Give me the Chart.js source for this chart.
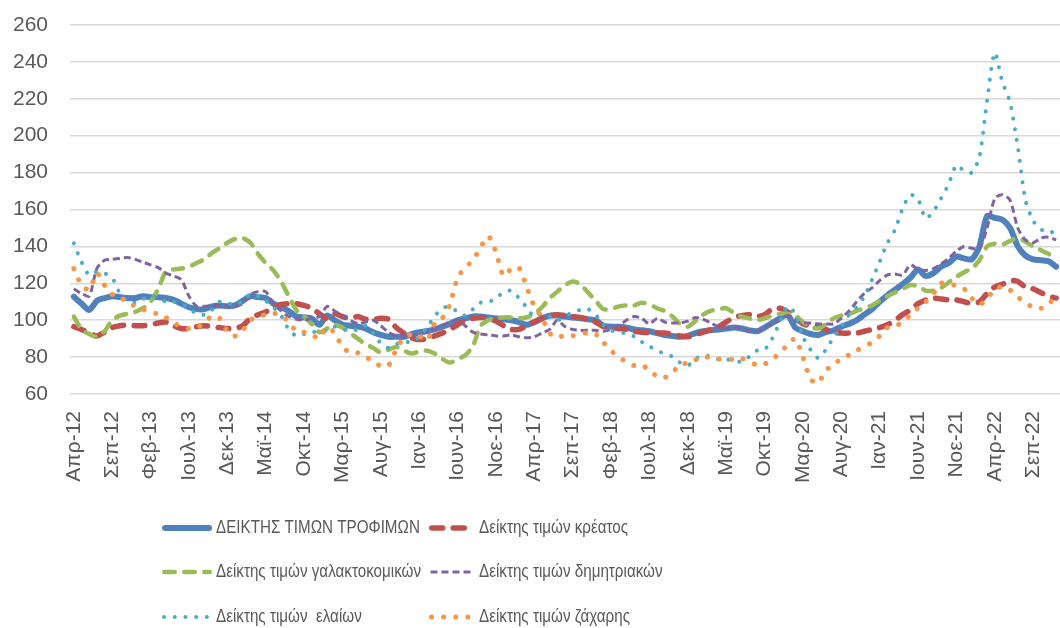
<!DOCTYPE html>
<html lang="el">
<head>
<meta charset="utf-8">
<title>Δείκτες τιμών τροφίμων</title>
<script src="https://cdn.jsdelivr.net/npm/chart.js@4.4.1/dist/chart.umd.min.js"></script>
<style>
  html, body { margin: 0; padding: 0; background: #fff; overflow: hidden; }
  #wrap { position: relative; width: 1060px; height: 628px; }
</style>
</head>
<body>
<div id="wrap"><canvas id="chart"></canvas></div>
<script>
// ====== DATA ======
const monthNames = ['Ιαν','Φεβ','Μαρ','Απρ','Μαϊ','Ιουν','Ιουλ','Αυγ','Σεπ','Οκτ','Νοε','Δεκ'];
const startYear  = 2012;
const startMonth = 3;      // Απρ
const monthCount = 129;    // Απρ-12 ... Δεκ-22
const labelEvery = 5;
const yTicks     = { min: 60, max: 260, step: 20 };

const seriesNames = [
  'ΔΕΙΚΤΗΣ ΤΙΜΩΝ ΤΡΟΦΙΜΩΝ',
  'Δείκτης τιμών κρέατος',
  'Δείκτης τιμών γαλακτοκομικών',
  'Δείκτης τιμών δημητριακών',
  'Δείκτης τιμών  ελαίων',
  'Δείκτης τιμών ζάχαρης'
];

const foodIndex = [112.7,109,105.5,110.5,112,113,112.5,112,112,113,
  112.5,112.5,112,111,109,107,106,106,107.5,108,
  107.5,108,110.5,113,112.5,112,109,107,105,102,
  101.5,101,97.5,102.5,100,97.5,97,96.5,95.5,93.5,
  92,91,91,91,92.5,93.5,94,95,96.5,98,
  100,101,102,102,101.5,101,100.5,100,99,97.5,
  99,101,102.5,102.5,102,101.5,101,100.5,100,97,
  96.5,96.5,96,95,94.5,94,93,92,91.5,91,
  91.5,93,94,94.5,95,95.5,96,95.5,94.5,94,
  96,98.5,101,103,96,94,92.5,92,93.5,94.5,
  96.5,98,100,103,106,110,113.5,116.5,119.5,123,
  127.5,124,125.5,129,131,134.5,133.5,133,140,156.5,
  155.5,154.5,150,140,135,133,132.5,132,129];

const meatIndex = [96.5,95,93,91.5,93.5,96,97,97.5,97,97,
  97.5,98.5,99,97,95.5,95.5,96.5,97,96.5,96,
  95.5,95.5,97,101,103,104.5,107,108.5,109,109,
  108,106.5,103.5,101,103.5,102,101,102,100.5,100.5,
  101,100.5,96,93,90.5,89.5,90,91.5,93,95,
  97.5,100,101,101.5,101,99.5,97,95,95,97,
  99,101,102.5,103,102.5,102,101.5,100.5,99,96.5,
  96,95.5,95,94,93.5,93.2,93,93,92.5,91.5,
  91,92,93.5,95,96.5,99,101.5,102.5,103,102,
  103,106,106.5,104.5,102,98,97,96.5,95,93.5,
  93,93,93,94,95,96,97.5,100,103,105.5,
  109,111,112,111.5,111,111,110,109,110,114.5,
  118,119.5,121.5,121,118,117,115,113,112];

const dairyIndex = [102,95,92.5,91,94,100,102.5,103.5,104.5,106.5,
  110,117,126.5,127.5,128,129,131,133,136.5,139,
  142,144,144.5,142,136,131,127,121,113,105.5,
  102,98,93.5,95.5,97.5,96,93,90,87,85,
  82.5,84,85.5,83.5,82,83,83.5,82,79,77,
  79,81,86,97,100,101,101.5,101.5,101,101.5,
  103.5,107,112,115.5,119,121,119.5,115,110.5,106,
  106,107.5,108,108,109.5,108.5,106.5,105,102,98,
  96.5,99.5,103,105,106,106.5,104,102,101,100,
  101,102.5,103.5,103.5,102.5,99,96.5,95.5,98,101,
  102.5,103.5,105,106.5,108,110.5,113,115,117,119,
  118.5,116,116,117.5,120.5,123.5,126,128,132.5,140,
  141.5,141,143,144.5,142.5,140,138,136,134.5];

const cerealsIndex = [117,114.5,113,128,132.5,133,133.5,134,133,131.5,
  130,128.5,125.5,124,122,113,107.5,107.5,108,108,
  108,107.5,109,114,115.5,115.5,109,105,102,100.5,
  100,101,102,107.5,105,102.5,100,98,99,100,
  97,93.5,91.5,91.5,91.5,92.5,93.5,95.5,97,99,
  100,97,93.5,92.5,92,91.5,91.5,92,91,90.5,
  91,93,95,100,96.5,95,94.5,94.5,94.5,94,
  95,97,100,102,101,98,101,99,98.5,98.5,
  99.5,101.5,100.5,98.5,96.5,95.5,96.5,95.5,94,94.5,
  96,98,100,102.5,99.5,98.5,98.5,98,98,98,
  101,105,110,114.5,117.5,121.5,124.5,125,124.5,130,
  127.5,127,128,130.5,133.5,137.5,140,139,139,150,
  166,168,165,150,143.5,142,144.5,145,143.5];

const oilsIndex = [141.7,131.5,124.5,126.3,125.4,123,114.5,110,109.5,111.5,
  113,112,110,110,109,106.5,103.5,103,105.5,110,
  109.5,108,110.5,114,113,110.5,107,102.5,95,91.5,
  92.5,93.5,93.8,94.5,96.5,95.5,94,95,97,93,
  87.5,85,87,88.5,88,91,96,102,106.5,107.3,
  104.5,102.5,106,109.5,110,111.5,115.5,116,112,107,
  102,103.5,102,100,102,104.5,105.5,106,103,97.5,
  94.5,93.5,92.8,91.2,88.2,85.8,83.8,81.5,80.3,77,
  75.5,79,81,80.2,78.8,78.8,78.1,77.5,80.2,83.5,
  84,90,99,107.5,103.5,91,84,79.5,84,90.7,
  96.5,102.8,107,112.8,121.8,131.7,141.7,149,160.6,168,
  165.5,155.2,159,166,174,184,181,180,188.6,219,
  245,229,218,194,165,154,149,149,146];

const sugarIndex = [128,119,116.5,125.5,119,114,113,109,107.8,106,
  104,103.5,101.5,98.5,96.5,95.5,96,98.5,102.3,101,
  94,91.4,94.5,100,102,103,103.7,103,99,94,
  93.5,92,90.2,96,93,85.5,82.5,82.3,80,78,
  75,75.5,84,90.5,92.3,91.5,89,98,101,108.5,
  123,128.5,132.5,139.5,145.5,137,124,127.8,128.5,118,
  107.5,101.5,93,90.5,92,91.6,92.5,93.2,92.5,88,
  83.5,80,77.5,75.4,75.6,73,69.5,69,71.5,76.3,
  76.6,78.5,80.5,79.5,79,78.8,78.8,79.3,77.5,75.8,
  76.3,78.5,82.5,86.5,90,80,68,66,73,75.5,
  79.5,81.1,83.5,86,87.8,91.5,96,97.2,98.5,103,
  106.5,110,114.5,120,119.8,118.6,117,112,108.5,111.5,
  117,118,116.3,112.6,109.5,107,106.4,108.8,113];

// ====== CATEGORIES ======
const months = [];
for (let i = 0; i < monthCount; i++) {
  const m = (startMonth + i) % 12;
  const y = startYear + Math.floor((startMonth + i) / 12);
  months.push(monthNames[m] + '-' + String(y).slice(2));
}

// ====== LEGEND (2 columns, like the Excel one) ======
const TEXT_COLOR     = '#595959';
const LEGEND_FONT    = '19px "Liberation Sans", Arial, sans-serif';
const LEGEND_SQUEEZE = 0.8;   // the original legend uses a narrower face
const legendCols     = [162, 429];
const legendRows     = [528, 572, 617];
const sampleLen      = [50, 46];

const gridLegend = {
  id: 'gridLegend',
  afterDraw(chart) {
    const ctx = chart.ctx;
    chart.data.datasets.forEach((ds, i) => {
      const col = i % 2, row = Math.floor(i / 2);
      const x = legendCols[col], y = legendRows[row], len = sampleLen[col];
      ctx.save();
      ctx.beginPath();
      ctx.strokeStyle = ds.borderColor;
      ctx.lineWidth = ds.borderWidth;
      ctx.lineCap = ds.borderCapStyle || 'butt';
      ctx.setLineDash(ds.borderDash || []);
      ctx.moveTo(x + ds.borderWidth / 2, y);
      ctx.lineTo(x + len - ds.borderWidth / 2, y);
      ctx.stroke();
      ctx.restore();

      ctx.save();
      ctx.translate(x + len + 4, y);
      ctx.scale(LEGEND_SQUEEZE, 1);
      ctx.font = LEGEND_FONT;
      ctx.fillStyle = TEXT_COLOR;
      ctx.textBaseline = 'middle';
      ctx.textAlign = 'left';
      ctx.fillText(ds.label, 0, 0);
      ctx.restore();
    });
  }
};

// ====== CHART ======
function line(label, data, color, width, dash, cap, order) {
  return {
    label, data,
    borderColor: color, backgroundColor: color,
    borderWidth: width, borderDash: dash, borderCapStyle: cap,
    borderJoinStyle: 'round',
    pointRadius: 0, pointHoverRadius: 0,
    tension: 0.25, fill: false, order
  };
}

const tickFont = { family: '"Liberation Sans", Arial, sans-serif', size: 21 };

new Chart(document.getElementById('chart'), {
  type: 'line',
  data: {
    labels: months,
    datasets: [
      line(seriesNames[0], foodIndex,    '#4F81BD', 6,   [],            'round', 6),
      line(seriesNames[1], meatIndex,    '#C0504D', 5.5, [11, 10.5],    'round', 5),
      line(seriesNames[2], dairyIndex,   '#9BBB59', 4.5, [10.5, 9.5],   'round', 4),
      line(seriesNames[3], cerealsIndex, '#8064A2', 3,   [7, 4],        'butt',  3),
      line(seriesNames[4], oilsIndex,    '#4BACC6', 4,   [0.1, 10.6],   'round', 2),
      line(seriesNames[5], sugarIndex,   '#F79646', 5,   [0.1, 12],     'round', 1)
    ]
  },
  options: {
    responsive: true,
    maintainAspectRatio: false,
    animation: false,
    layout: { padding: { top: 25, right: 0, bottom: 0, left: 0 } },
    plugins: { legend: { display: false }, tooltip: { enabled: false } },
    scales: {
      x: {
        offset: true,
        grid: { display: false, drawTicks: false },
        border: { display: false },
        ticks: {
          autoSkip: false,
          minRotation: 90, maxRotation: 90,
          padding: 17,
          color: TEXT_COLOR,
          font: tickFont,
          callback(val, i) { return i % labelEvery === 0 ? this.getLabelForValue(val) : ''; }
        },
        afterFit(scale) {
          scale.paddingLeft = 0;
          scale.paddingRight = 0;
          scale.height = 628 - 394;
        }
      },
      y: {
        min: yTicks.min, max: yTicks.max,
        grid: { color: '#d9d9d9', lineWidth: 1.5, drawTicks: false },
        border: { display: false },
        ticks: { stepSize: yTicks.step, padding: 22, color: TEXT_COLOR, font: tickFont },
        afterFit(scale) {
          scale.width = 70;
          scale.paddingTop = 0;
          scale.paddingBottom = 0;
        }
      }
    }
  },
  plugins: [gridLegend]
});
</script>
</body>
</html>
